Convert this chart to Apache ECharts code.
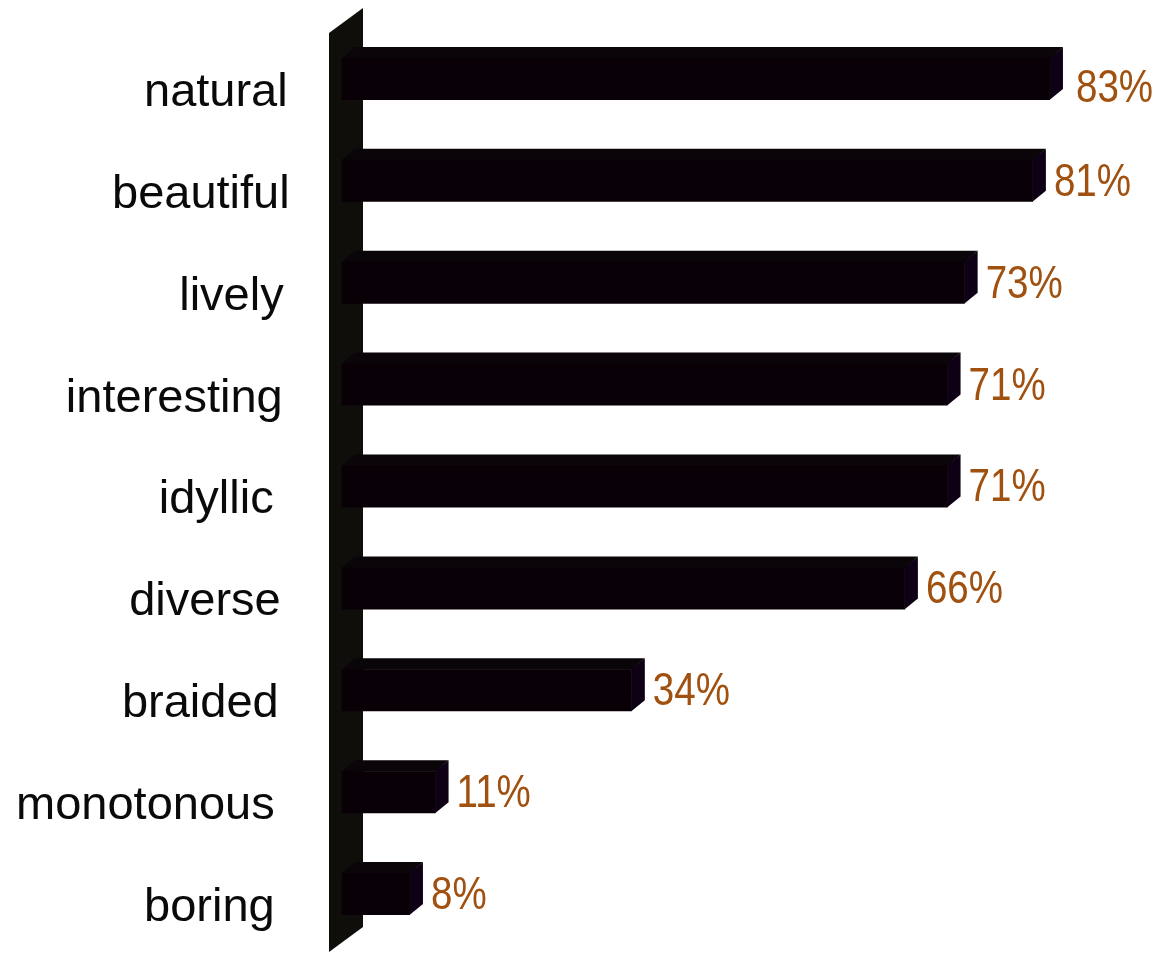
<!DOCTYPE html>
<html>
<head>
<meta charset="utf-8">
<script src="https://cdn.jsdelivr.net/npm/echarts@6/dist/echarts.min.js"></script>
<style>
html,body{margin:0;padding:0;background:#fff;}
#chart{width:1159px;height:953px;}
</style>
</head>
<body>
<div id="chart"></div>
<script>
const categories = ['natural', 'beautiful', 'lively', 'interesting', 'idyllic', 'diverse', 'braided', 'monotonous', 'boring'];
const values = [83, 81, 73, 71, 71, 66, 34, 11, 8];
const valueLabels = ['83%', '81%', '73%', '71%', '71%', '66%', '34%', '11%', '8%'];

// styling only: extra right padding per category label, extra label shifts
const labelPadRight = [3, 1, 7, 8, 17, 10, 12, 16, 16];
const valueLabelShift = [[5, 8], [0, 0], [0, 0], [0, 0], [0, 0], [0, 0], [0, 0], [0, 0], [0, 0]];

const DX = 13, DY = 11;
const FRONT = '#080006', TOP = '#0a0509', SIDE = '#0e0015', WALL = '#0f0e0a';

const chart = echarts.init(document.getElementById('chart'), null, {renderer: 'canvas'});

const rich = {};
categories.forEach((c, i) => {
  rich['r' + i] = {
    fontSize: 47, color: '#0a0a0a',
    fontFamily: 'Liberation Sans, Arial, sans-serif',
    padding: [28, labelPadRight[i], 0, 0]
  };
});

const option = {
  backgroundColor: '#ffffff',
  animation: false,
  grid: {left: 341.7, right: 49.3, top: 28, bottom: 8, containLabel: false},
  xAxis: {type: 'value', min: 0, max: 90, show: false, splitLine: {show: false}},
  yAxis: {
    type: 'category', data: categories, inverse: true,
    axisLine: {show: false}, axisTick: {show: false}, splitLine: {show: false},
    axisLabel: {
      margin: 51, fontSize: 47, color: '#0a0a0a',
      fontFamily: 'Liberation Sans, Arial, sans-serif',
      formatter: function (v, i) { return '{r' + i + '|' + v + '}'; },
      rich: rich
    }
  },
  series: [
    {
      type: 'custom',
      z: 1,
      silent: true,
      data: [[0]],
      renderItem: function (params, api) {
        const cs = params.coordSys;
        const x0 = api.coord([0, 0])[0];
        const xl = x0 - 12.7, xr = x0 + 21.3;
        const top = cs.y, bot = cs.y + cs.height;
        return {
          type: 'polygon',
          shape: {points: [[xl, top + 5], [xr, top - 20], [xr, bot - 18], [xl, bot + 7]]},
          style: {fill: WALL}
        };
      }
    },
    {
      type: 'custom',
      z: 2,
      silent: true,
      data: values.map((v, i) => [v, i]),
      renderItem: function (params, api) {
        const i = params.dataIndex;
        const v = api.value(0);
        const c = api.coord([v, api.value(1)]);
        const o = api.coord([0, api.value(1)]);
        const band = api.size([0, 1])[1];
        const h = band * 0.412;
        const x0 = o[0], xe = c[0];
        const yt = c[1] - h / 2, yb = c[1] + h / 2;
        const sh = valueLabelShift[i];
        return {
          type: 'group',
          children: [
            {type: 'polygon', shape: {points: [[x0, yt + 0.5], [xe, yt + 0.5], [xe + DX, yt - DY], [x0 + DX, yt - DY]]}, style: {fill: TOP}},
            {type: 'polygon', shape: {points: [[xe - 0.5, yt], [xe + DX, yt - DY], [xe + DX, yb - DY], [xe - 0.5, yb]]}, style: {fill: SIDE}},
            {type: 'rect', shape: {x: x0, y: yt, width: xe - x0, height: h}, style: {fill: FRONT}},
            {
              type: 'text', x: xe + 21 + sh[0], y: c[1] + 2 + sh[1], scaleX: 0.82,
              style: {
                text: valueLabels[i], fill: '#a0500f', fontSize: 47,
                fontFamily: 'Liberation Sans, Arial, sans-serif',
                align: 'left', verticalAlign: 'middle'
              }
            }
          ]
        };
      }
    }
  ]
};
chart.setOption(option);
</script>
</body>
</html>
